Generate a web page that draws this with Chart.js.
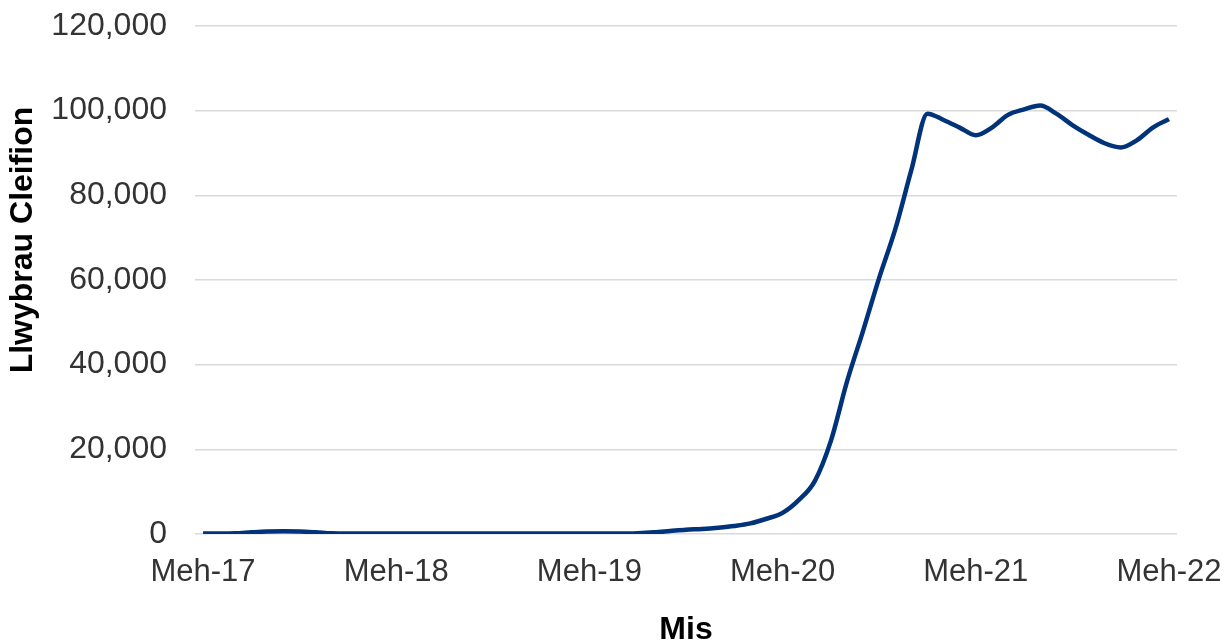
<!DOCTYPE html>
<html>
<head>
<meta charset="utf-8">
<script src="https://cdn.jsdelivr.net/npm/chart.js@4"></script>
<style>
  html, body { margin: 0; padding: 0; background: #fff; }
  #wrap { width: 1231px; height: 640px; }
</style>
</head>
<body>
<div id="wrap"><canvas id="chart" width="1231" height="640"></canvas></div>
<script>
// --- data: monthly patient pathways, Jun 2017 to Jun 2022 ---
const labels = [
  "Meh-17","Gor-17","Awst-17","Medi-17","Hyd-17","Tach-17","Rhag-17","Ion-18","Chwef-18","Maw-18","Ebr-18","Mai-18",
  "Meh-18","Gor-18","Awst-18","Medi-18","Hyd-18","Tach-18","Rhag-18","Ion-19","Chwef-19","Maw-19","Ebr-19","Mai-19",
  "Meh-19","Gor-19","Awst-19","Medi-19","Hyd-19","Tach-19","Rhag-19","Ion-20","Chwef-20","Maw-20","Ebr-20","Mai-20",
  "Meh-20","Gor-20","Awst-20","Medi-20","Hyd-20","Tach-20","Rhag-20","Ion-21","Chwef-21","Maw-21","Ebr-21","Mai-21",
  "Meh-21","Gor-21","Awst-21","Medi-21","Hyd-21","Tach-21","Rhag-21","Ion-22","Chwef-22","Maw-22","Ebr-22","Mai-22",
  "Meh-22"
];
const pathways = [
  100, 100, 150, 400, 600, 650, 600, 400, 150, 100, 100, 100,
  100, 100, 100, 100, 100, 100, 100, 100, 100, 100, 100, 100,
  100, 100, 100, 200, 400, 700, 1000, 1200, 1500, 1900, 2500, 3600,
  5000, 8000, 12500, 22000, 36000, 48000, 60500, 72000, 86000, 99300, 97800, 96000,
  94200, 96000, 99000, 100300, 101200, 99300, 96600, 94300, 92300, 91300, 93000, 96000,
  98000
];
const yTicks = [0, 20000, 40000, 60000, 80000, 100000, 120000];

const lineColor = "#00337a";
const textColor = "#333333";
const font = "'Liberation Sans', Arial, sans-serif";

const ctx = document.getElementById("chart").getContext("2d");

new Chart(ctx, {
  type: "line",
  data: {
    labels: labels,
    datasets: [{
      label: "Llwybrau Cleifion",
      data: pathways,
      borderColor: lineColor,
      backgroundColor: lineColor,
      borderWidth: 4.5,
      pointRadius: 0,
      cubicInterpolationMode: "monotone",
      fill: false
    }]
  },
  options: {
    responsive: false,
    animation: false,
    layout: { padding: { left: 4, right: 54, top: 26, bottom: 0 } },
    plugins: {
      legend: { display: false },
      tooltip: { enabled: false }
    },
    scales: {
      x: {
        type: "category",
        offset: true,
        grid: { display: false },
        border: { display: false },
        ticks: {
          autoSkip: false,
          maxRotation: 0,
          padding: 12,
          color: textColor,
          font: { family: font, size: 31 },
          callback: (v, i) => (i % 12 === 0 ? labels[i] : null)
        },
        title: {
          display: true,
          text: "Mis",
          color: "#000",
          padding: { top: 0, bottom: -9 },
          font: { family: font, size: 32, weight: "bold" }
        },
        afterFit: s => { s.height = 106; s.paddingLeft = 0; s.paddingRight = 0; }
      },
      y: {
        min: 0,
        max: 120000,
        afterBuildTicks: s => { s.ticks = yTicks.map(v => ({ value: v })); },
        grid: { color: "#d9d9d9", lineWidth: 1.5, drawTicks: false },
        border: { display: false },
        ticks: {
          padding: 28,
          color: textColor,
          font: { family: font, size: 32 },
          callback: v => v.toLocaleString("en-US")
        },
        title: {
          display: true,
          // leading spaces lift the rotated title towards the top, as in the original
          text: "         Llwybrau Cleifion",
          color: "#000",
          padding: { top: 0, bottom: 0 },
          font: { family: font, size: 32, weight: "bold" }
        },
        afterFit: s => { s.width = 191; s.paddingTop = 0; s.paddingBottom = 0; }
      }
    }
  }
});
</script>
</body>
</html>
